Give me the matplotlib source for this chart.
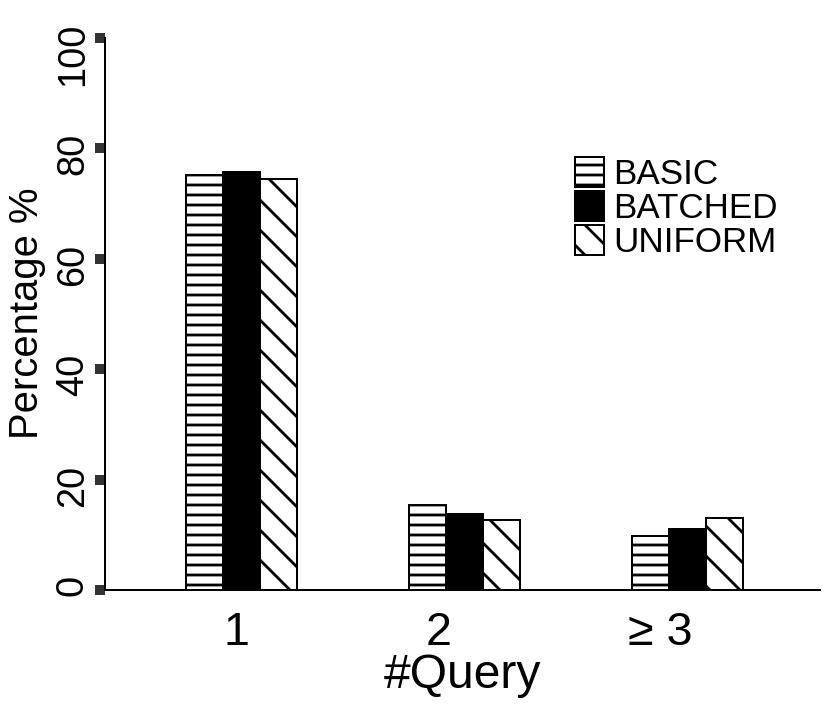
import numpy as np
import matplotlib

matplotlib.use("Agg")
import matplotlib.pyplot as plt
from matplotlib import transforms

groups = ["1", "2", "\u2265 3"]
series = ["BASIC", "BATCHED", "UNIFORM"]
basic = [75.1, 15.4, 9.7]
batched = [75.7, 13.7, 11.0]
uniform = [74.4, 12.7, 13.1]
yticks = [0, 20, 40, 60, 80, 100]

STYLES = (("white", "---"), ("black", ""), ("white", "\\\\"))

# dpi picked so matplotlib's hatch spacing matches the original
DPI = 180
PT = 72.0 / DPI          # points per pixel


def px(v):
    return v * PT


plt.rcParams["font.family"] = ["Liberation Sans", "DejaVu Sans"]
plt.rcParams["hatch.linewidth"] = px(2.8)
plt.rcParams["hatch.color"] = "black"

fig = plt.figure(figsize=(830 / DPI, 712 / DPI), dpi=DPI)
ax = fig.add_axes([105 / 830, 1 - 590 / 712, 715 / 830, (590 - 37.5) / 712])

x = np.arange(len(groups))
w = 0.166
for i, (name, vals) in enumerate(zip(series, (basic, batched, uniform))):
    fc, hatch = STYLES[i]
    ax.bar(x + (i - 1) * w, vals, w, color=fc, edgecolor="black",
           linewidth=px(2), hatch=hatch, label=name)

ax.set_xlim(-0.61, 2.596)
ax.set_ylim(0, 100)
ax.set_yticks(yticks)
ax.set_yticklabels([])
# labels sit a little left of the group centres in the original
ax.set_xticks([-0.022, 0.888, 1.88])
ax.set_xticklabels(groups)

for s in ("top", "right"):
    ax.spines[s].set_visible(False)
for s in ("left", "bottom"):
    ax.spines[s].set_linewidth(px(2))

ax.tick_params(axis="y", direction="out", length=px(10), width=px(10),
               color="#333333")
ax.tick_params(axis="x", length=0, labelsize=px(46.7), pad=px(21))

# rotated y tick labels, end of the text just above the tick
ytrans = transforms.blended_transform_factory(ax.transAxes, ax.transData) + \
    transforms.ScaledTranslation(-14 / DPI, 15 / DPI, fig.dpi_scale_trans)
for v in yticks:
    ax.text(0, v, str(v), transform=ytrans, rotation=90, ha="right", va="top",
            fontsize=px(38))

ax.set_xlabel("#Query", fontsize=px(48), labelpad=px(-1.7))
ax.set_ylabel("Percentage %", fontsize=px(40))
ax.yaxis.set_label_coords(-0.082, 0.501)

ax.legend(loc="upper left", bbox_to_anchor=(575 / 830, 1 - 157 / 712),
          bbox_transform=fig.transFigure, frameon=False, fontsize=px(35),
          borderpad=0, borderaxespad=0, labelspacing=0.0,
          handlelength=0.83, handleheight=0.95, handletextpad=0.26)

fig.savefig("out.png", dpi=DPI)
